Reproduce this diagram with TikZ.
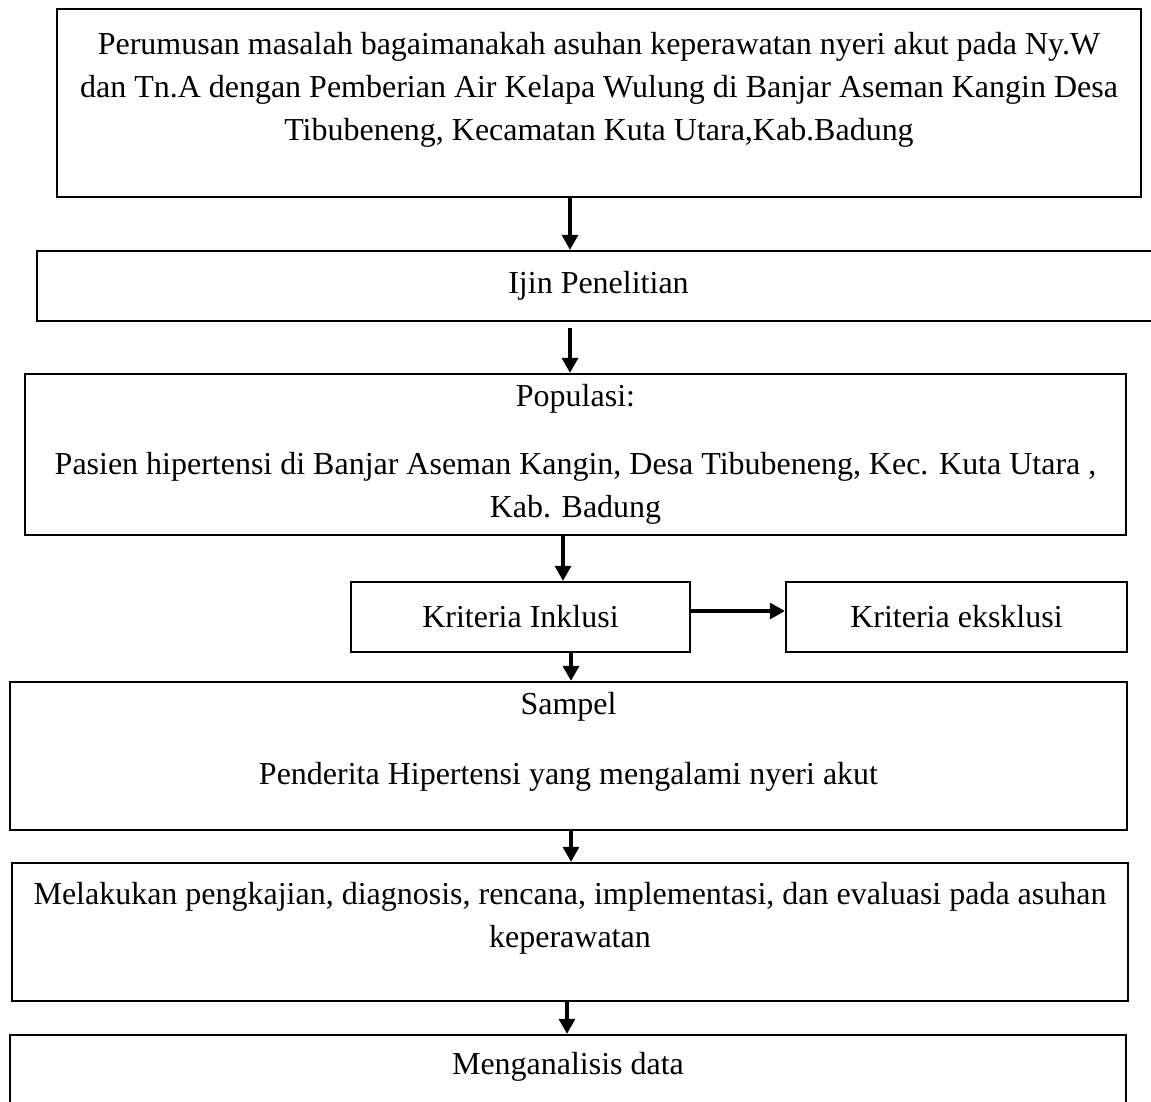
\documentclass[tikz,border=0pt]{standalone}
\usepackage{fontspec}
\setmainfont{Liberation Serif}
\usepackage{tikz}
\usetikzlibrary{arrows.meta,positioning}
\newcommand{\flowfont}{\fontsize{18.2}{24.5}\selectfont}
\newcommand{\padbot}[1]{\rule[-#1]{0pt}{#1}}

\begin{document}
\begin{tikzpicture}[
    box/.style={draw, line width=1.3pt, align=center, inner sep=0pt, font=\flowfont},
    arrow/.style={-{Triangle[length=0.3cm,width=0.32cm]}, line width=1.8pt}
]
\useasboundingbox (0,0) rectangle (23.02,22.04);

\node[box, minimum width=21.68cm, minimum height=3.76cm] (rumusan) at (11.98,19.98)
    {Perumusan masalah bagaimanakah asuhan keperawatan nyeri akut pada Ny.W\\
     dan Tn.A dengan Pemberian Air Kelapa Wulung di Banjar Aseman Kangin Desa\\
     Tibubeneng, Kecamatan Kuta Utara,Kab.Badung\padbot{0.66cm}};
\node[box, minimum width=22.46cm, minimum height=1.40cm] (ijin) at (11.97,16.32) {Ijin Penelitian};
\node[box, minimum width=22.02cm, minimum height=3.22cm] (populasi) at (11.51,12.95)
    {Populasi:\\[0.5cm]
     Pasien hipertensi di Banjar Aseman Kangin, Desa Tibubeneng, Kec. Kuta Utara ,\\
     Kab. Badung};
\node[box, minimum width=6.78cm, minimum height=1.40cm] (inklusi) at (10.41,9.70) {Kriteria Inklusi};
\node[box, minimum width=6.82cm, minimum height=1.40cm] (eksklusi) at (19.13,9.70) {Kriteria eksklusi};
\node[box, minimum width=22.34cm, minimum height=2.96cm] (sampel) at (11.37,6.92)
    {Sampel\\[0.54cm]
     Penderita Hipertensi yang mengalami nyeri akut\padbot{0.70cm}};
\node[box, minimum width=22.32cm, minimum height=2.76cm] (lakukan) at (11.40,3.40)
    {Melakukan pengkajian, diagnosis, rencana, implementasi, dan evaluasi pada asuhan\\
     keperawatan\padbot{0.68cm}};
\node[box, minimum width=22.32cm, minimum height=1.42cm] (analisis) at (11.36,0.63)
    {Menganalisis data\padbot{0.3cm}};

% arrow columns
\coordinate (s1) at (11.40,0);
\coordinate (s2) at (11.26,0);
\coordinate (s3) at (11.42,0);
\coordinate (s4) at (11.34,0);

\draw[arrow] (rumusan.south -| s1) -- (ijin.north -| s1);
\draw[arrow, shorten <=0.12cm] (ijin.south -| s1) -- (populasi.north -| s1);
\draw[arrow] (populasi.south -| s2) -- (inklusi.north -| s2);
\draw[arrow] ([yshift=0.12cm]inklusi.east) -- ([yshift=0.12cm]eksklusi.west);
\draw[arrow] (inklusi.south -| s3) -- (sampel.north -| s3);
\draw[arrow] (sampel.south -| s3) -- (lakukan.north -| s3);
\draw[arrow] (lakukan.south -| s4) -- (analisis.north -| s4);
\end{tikzpicture}
\end{document}
